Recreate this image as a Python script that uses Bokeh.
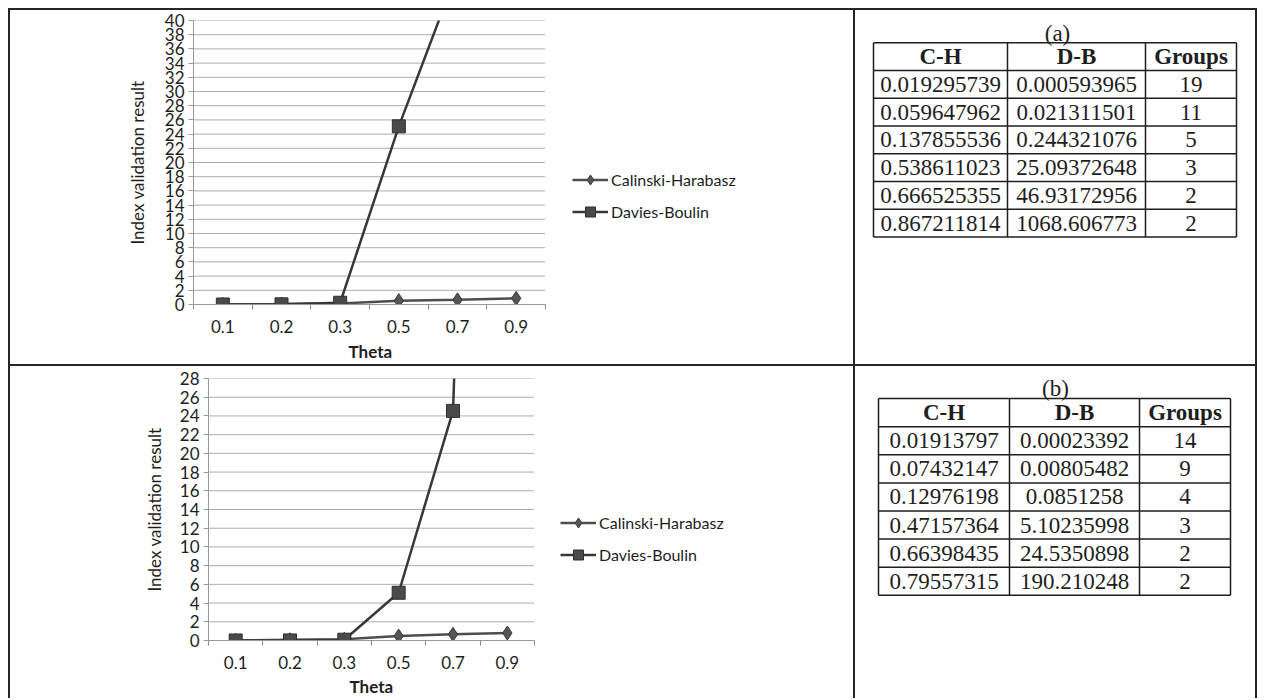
from bokeh.plotting import figure
from bokeh.layouts import column, row
from bokeh.models import Range1d, FixedTicker, Legend, LegendItem, Spacer, Title
from bokeh.embed import file_html
from bokeh.resources import INLINE
from bokeh.core.properties import value

# ---------------- data ----------------
theta = ["0.1", "0.2", "0.3", "0.5", "0.7", "0.9"]

ch_a = [0.019295739, 0.059647962, 0.137855536, 0.538611023, 0.666525355, 0.867211814]
db_a = [0.000593965, 0.021311501, 0.244321076, 25.09372648, 46.93172956, 1068.606773]
groups_a = [19, 11, 5, 3, 2, 2]

ch_b = [0.01913797, 0.07432147, 0.12976198, 0.47157364, 0.66398435, 0.79557315]
db_b = [0.00023392, 0.00805482, 0.0851258, 5.10235998, 24.5350898, 190.210248]
groups_b = [14, 9, 4, 3, 2, 2]

y_ticks_a = [0, 2, 4, 6, 8, 10, 12, 14, 16, 18, 20, 22, 24, 26, 28, 30, 32, 34, 36, 38, 40]
y_ticks_b = [0, 2, 4, 6, 8, 10, 12, 14, 16, 18, 20, 22, 24, 26, 28]

series_names = ["Calinski-Harabasz", "Davies-Boulin"]
table_headers = ["C-H", "D-B", "Groups"]
panel_labels = ["(a)", "(b)"]
x_title = "Theta"
y_title = "Index validation result"

SANS = "Lato"
SERIF = "Liberation Serif"
INK = "#1e1e1e"
RULE = "#262626"


def make_chart(ch, db, yticks, width, height, mbl, mbr, mbt, mbb, plot_w,
               leg_loc, ylab_standoff, xtitle_offset, xtitle_standoff):
    n = len(theta)
    xs = [i + 0.5 for i in range(n)]
    frame_w = width - mbl - mbr
    # the frame also hosts the legend; the category area occupies plot_w pixels of it
    x_end = n * frame_w / plot_w
    p = figure(width=width, height=height, output_backend="svg", toolbar_location=None,
               x_range=Range1d(0, x_end), y_range=Range1d(yticks[0], yticks[-1]),
               min_border_left=mbl, min_border_right=mbr, min_border_top=mbt, min_border_bottom=mbb,
               background_fill_color="white", border_fill_color="white", outline_line_color=None)
    # x axis: labels at category centres, small ticks at category boundaries
    p.xaxis.bounds = (0, n)
    p.xaxis.ticker = FixedTicker(ticks=xs, minor_ticks=[float(i) for i in range(n + 1)])
    p.xaxis.major_label_overrides = {x: t for x, t in zip(xs, theta)}
    p.xaxis.major_tick_out = 0
    p.xaxis.major_tick_in = 0
    p.xaxis.minor_tick_out = 5
    p.xaxis.minor_tick_in = 0
    p.xaxis.minor_tick_line_color = "#8a8a8a"
    p.xaxis.axis_line_color = "#9a9a9a"
    p.xaxis.major_label_standoff = 10

    p.yaxis.ticker = FixedTicker(ticks=yticks)
    p.yaxis.major_tick_out = 5
    p.yaxis.major_tick_in = 0
    p.yaxis.major_tick_line_color = "#9a9a9a"
    p.yaxis.axis_line_color = "#9a9a9a"
    p.yaxis.major_label_standoff = 4
    p.yaxis.axis_label = y_title
    p.yaxis.axis_label_text_font_style = "normal"
    p.yaxis.axis_label_standoff = ylab_standoff

    for ax in (p.xaxis, p.yaxis):
        ax.major_label_text_font = SANS
        ax.major_label_text_font_size = "17px"
        ax.major_label_text_color = INK
        ax.axis_label_text_font = SANS
        ax.axis_label_text_font_size = "17px"
        ax.axis_label_text_color = INK

    # x-axis title, centred under the category area
    p.add_layout(Title(text=x_title, align="left", offset=xtitle_offset,
                       standoff=xtitle_standoff, text_font=SANS, text_font_size="17px",
                       text_font_style="bold", text_color=INK), "below")

    # horizontal dotted gridlines limited to the category area
    p.grid.visible = False
    p.segment(x0=[0] * len(yticks), y0=yticks, x1=[n] * len(yticks), y1=yticks,
              line_color="#5a5a5a", line_dash="1 1", line_width=1)

    l1 = p.line(xs, ch, line_color="#4e4e4e", line_width=2.5)
    s1 = p.scatter(xs, ch, marker="diamond", size=14,
                   fill_color="#555555", line_color="#3a3a3a")
    l2 = p.line(xs, db, line_color="#383838", line_width=2.5)
    s2 = p.scatter(xs, db, marker="square", size=13,
                   fill_color="#4a4a4a", line_color="#2e2e2e")

    legend = Legend(items=[LegendItem(label=series_names[0], renderers=[l1, s1]),
                           LegendItem(label=series_names[1], renderers=[l2, s2])],
                    location=leg_loc, padding=0, margin=0, spacing=7,
                    glyph_width=36, glyph_height=25, label_standoff=3,
                    label_text_font=SANS, label_text_font_size="16px", label_text_color=INK,
                    background_fill_alpha=0, border_line_alpha=0)
    p.add_layout(legend)
    return p


def make_table(label, label_xy, ch, db, groups, width, height, mbt, mbb, xb, ytop, rowh):
    # same top/bottom borders as the neighbouring chart, so frames line up;
    # the y range is chosen so that one unit is one pixel from the figure top
    p = figure(width=width, height=height, output_backend="svg", toolbar_location=None,
               x_range=Range1d(0, width), y_range=Range1d(height - mbb, mbt),
               x_axis_type=None, y_axis_type=None,
               min_border_left=0, min_border_right=0, min_border_top=mbt, min_border_bottom=mbb,
               background_fill_color="white", border_fill_color="white", outline_line_color=None)
    p.grid.visible = False
    nrows = len(ch) + 1
    ys = [ytop + k * rowh for k in range(nrows + 1)]
    p.segment(x0=[xb[0]] * len(ys), y0=ys, x1=[xb[-1]] * len(ys), y1=ys,
              line_color=INK, line_width=1.5)
    p.segment(x0=xb, y0=[ys[0]] * len(xb), x1=xb, y1=[ys[-1]] * len(xb),
              line_color=INK, line_width=1.5)
    cx = [(xb[i] + xb[i + 1]) / 2 for i in range(len(xb) - 1)]
    p.text(x=[label_xy[0]], y=[label_xy[1]], text=[label], text_font=value(SERIF),
           text_font_size="23px", text_align="center", text_baseline="middle", text_color=INK)
    hy = (ys[0] + ys[1]) / 2
    p.text(x=cx, y=[hy] * 3, text=table_headers, text_font=value(SERIF), text_font_style="bold",
           text_font_size="23px", text_align="center", text_baseline="middle", text_color=INK)
    tx, ty, tt = [], [], []
    for r in range(len(ch)):
        yc = (ys[r + 1] + ys[r + 2]) / 2
        for c, v in enumerate((repr(ch[r]), repr(db[r]), str(groups[r]))):
            tx.append(cx[c]); ty.append(yc); tt.append(v)
    p.text(x=tx, y=ty, text=tt, text_font=value(SERIF), text_font_size="23px",
           text_align="center", text_baseline="middle", text_color=INK)
    return p


def rule(w, h):
    return Spacer(width=w, height=h, margin=0, styles={"background-color": RULE})


OFF = 8    # page offset (the template has no body margin)
LW = 843   # left cell width
RW = 400   # right cell width
H1 = 354   # top cell height
H2 = 332   # bottom cell height
T = 2      # rule thickness
TOTAL_W = T + LW + T + RW + T

chart_a = make_chart(ch_a, db_a, y_ticks_a, LW, H1, 183, 10, 10, 59, 352, (379, 80), 14, 155, 6)
chart_b = make_chart(ch_b, db_b, y_ticks_b, LW, H2, 198, 10, 12, 55, 326, (352, 73), 12, 141, 4)

table_a = make_table(panel_labels[0], (202, 23), ch_a, db_a, groups_a, RW, H1, 10, 59,
                     [18, 152, 290, 381], 32.3, 27.85)
table_b = make_table(panel_labels[1], (200, 22), ch_b, db_b, groups_b, RW, H2, 12, 55,
                     [23, 154, 284, 375], 32.3, 28.43)

grid = column(
    rule(TOTAL_W, T),
    row(rule(T, H1), chart_a, rule(T, H1), table_a, rule(T, H1), spacing=0),
    rule(TOTAL_W, T),
    row(rule(T, H2), chart_b, rule(T, H2), table_b, rule(T, H2), spacing=0),
    spacing=0,
)

layout = row(Spacer(width=OFF, height=1, margin=0),
             column(Spacer(width=1, height=OFF, margin=0), grid, spacing=0),
             spacing=0)

open("out.html", "w").write(file_html(layout, INLINE))
